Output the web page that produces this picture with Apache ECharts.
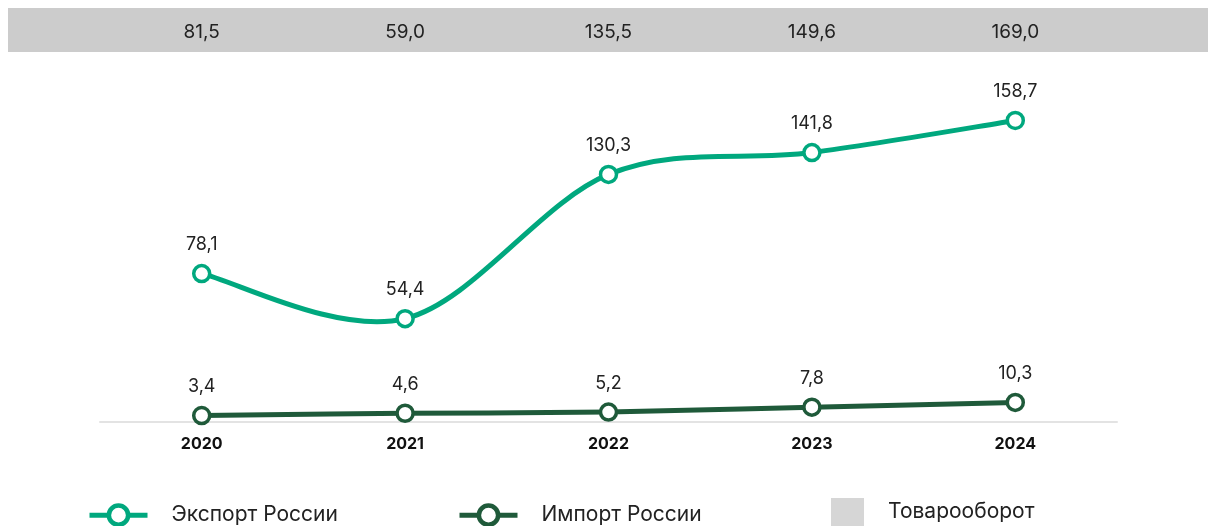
<!DOCTYPE html>
<html><head><meta charset="utf-8">
<script src="https://cdn.jsdelivr.net/npm/echarts@6/dist/echarts.min.js"></script>
<style>html,body{margin:0;padding:0;background:#fff}#c{width:1208px;height:526px}</style>
</head><body><div id="c"></div>
<script>
const years = ['2020', '2021', '2022', '2023', '2024'];
const exportRu = [78.1, 54.4, 130.3, 141.8, 158.7];
const importRu = [3.4, 4.6, 5.2, 7.8, 10.3];
const turnover = [81.5, 59.0, 135.5, 149.6, 169.0];

const fmt = v => Number(v).toFixed(1).replace('.', ',');
const FONT = 'Inter, "Open Sans", sans-serif';
const C_EXP = '#00a87e';
const C_IMP = '#1f5a3a';

const chart = echarts.init(document.getElementById('c'));

// Catmull-Rom curve drawn through the library's coordinate system
const curveSeries = (values, color) => ({
  type: 'custom', silent: true, z: 2,
  data: values.map((v, i) => [i, v]),
  renderItem: (params, api) => {
    if (params.dataIndex !== 0) return null;
    const pts = values.map((v, i) => api.coord([i, v]));
    let d = 'M' + pts[0][0] + ' ' + pts[0][1];
    for (let i = 0; i < pts.length - 1; i++) {
      const p0 = pts[Math.max(i - 1, 0)], p1 = pts[i], p2 = pts[i + 1], p3 = pts[Math.min(i + 2, pts.length - 1)];
      const c1 = [p1[0] + (p2[0] - p0[0]) / 6, p1[1] + (p2[1] - p0[1]) / 6];
      const c2 = [p2[0] - (p3[0] - p1[0]) / 6, p2[1] - (p3[1] - p1[1]) / 6];
      d += ' C' + c1[0] + ' ' + c1[1] + ' ' + c2[0] + ' ' + c2[1] + ' ' + p2[0] + ' ' + p2[1];
    }
    return { type: 'path', shape: { pathData: d }, style: { fill: 'none', stroke: color, lineWidth: 5, lineCap: 'round' } };
  }
});

const lineSeries = (name, data, color) => ({
  name, type: 'line', data,
  symbol: 'circle', symbolSize: 16,
  lineStyle: { color, width: 0 },
  itemStyle: { color: '#fff', borderColor: color, borderWidth: 3.5 },
  label: { show: true, position: 'top', distance: 10, formatter: p => fmt(p.value),
           color: '#222', fontSize: 18, fontFamily: FONT },
  z: 3
});
const legendBase = (name, left, color, extra) => Object.assign({
  data: [name], left, bottom: -1, orient: 'horizontal', padding: 0,
  itemWidth: 58, itemHeight: 24,
  lineStyle: { width: 5, color: color, opacity: 1 },
  itemStyle: { borderWidth: 4.5, borderColor: color, color: '#fff' },
  textStyle: { fontSize: 21, color: '#222', fontFamily: FONT, padding: [0, 0, 0, 19] },
  selectedMode: false
}, extra || {});

chart.setOption({
  animation: false,
  graphic: [{ type: 'rect', shape: { x: 8, y: 8, width: 1200, height: 44 },
              style: { fill: '#cccccc' }, z: -10 }],
  grid: { left: 100, right: 91, top: 80, bottom: 104 },
  xAxis: [{
    type: 'category', data: years, boundaryGap: true,
    axisLine: { lineStyle: { color: '#e3e3e3', width: 2 } },
    axisTick: { show: false },
    axisLabel: { color: '#111', fontSize: 16, fontWeight: 'bold', fontFamily: FONT, margin: 14 }
  }, {
    type: 'category', data: turnover.map(fmt), position: 'top', offset: 32,
    axisLine: { show: false }, axisTick: { show: false },
    axisLabel: { color: '#222', fontSize: 19, fontFamily: FONT, margin: 6 }
  }],
  yAxis: { type: 'value', min: 0, max: 180, show: false, splitLine: { show: false } },
  legend: [
    legendBase('Экспорт России', 87, C_EXP),
    legendBase('Импорт России', 457, C_IMP),
    { data: ['Товарооборот'], left: 831, bottom: 0, padding: 0, icon: 'rect',
      itemWidth: 33, itemHeight: 28, selectedMode: false,
      itemStyle: { color: '#cccccc' },
      textStyle: { fontSize: 21, color: '#222', fontFamily: FONT, padding: [0, 0, 0, 19] } }
  ],
  series: [
    curveSeries(exportRu, C_EXP),
    curveSeries(importRu, C_IMP),
    lineSeries('Экспорт России', exportRu, C_EXP),
    lineSeries('Импорт России', importRu, C_IMP),
    { name: 'Товарооборот', type: 'scatter', data: [], itemStyle: { color: '#cccccc' } }
  ]
});
</script></body></html>
